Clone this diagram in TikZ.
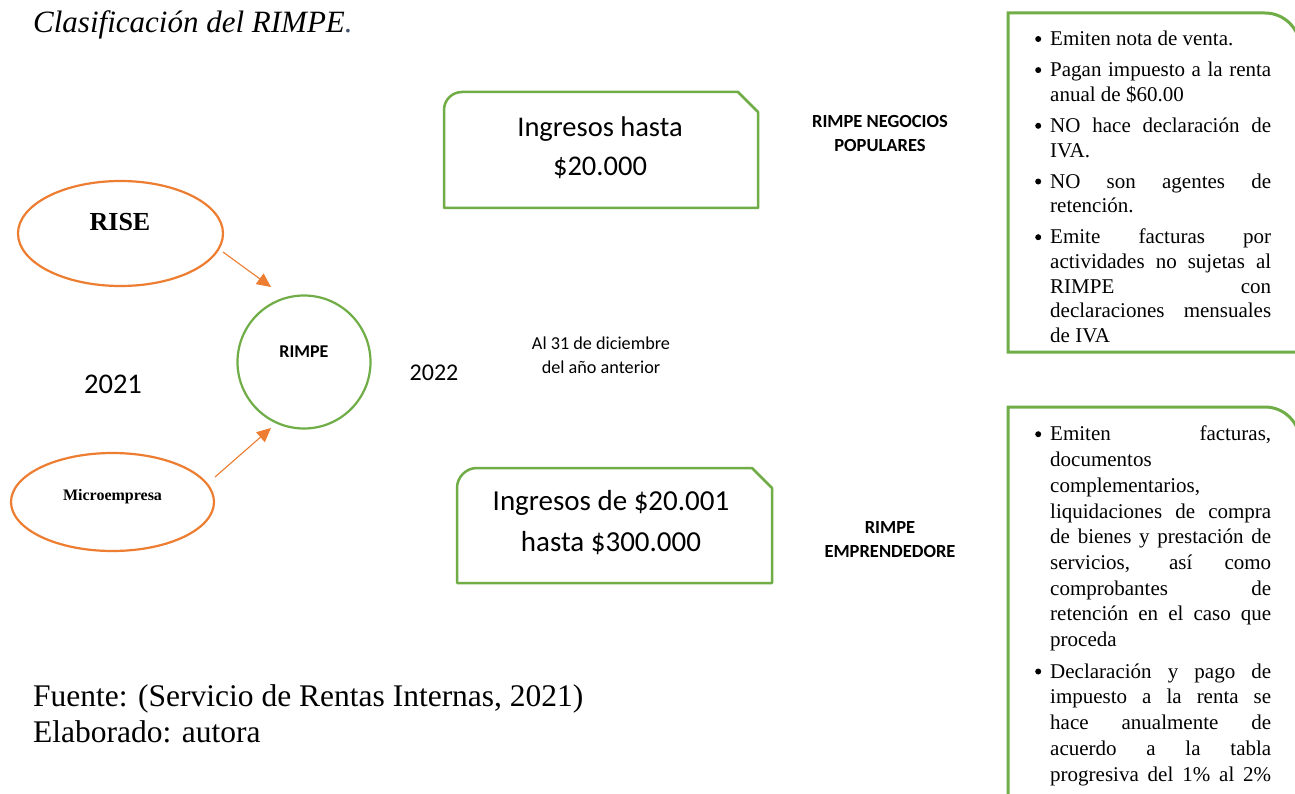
\documentclass[tikz,border=0pt]{standalone}
\usepackage{fontspec}
\setmainfont{Liberation Serif}
\newfontfamily\calibri{Carlito}
\usetikzlibrary{shapes.geometric,arrows.meta}
\definecolor{ogreen}{HTML}{70AD47}
\definecolor{oorange}{HTML}{ED7D31}
\definecolor{odark}{HTML}{44546A}
\newcommand{\jline}[1]{\makebox[221pt][s]{#1}}
\newcommand{\bul}{\llap{\raisebox{3.7pt}{\tikz\fill[black] (0,0) circle (3pt);}\hspace{9pt}}}
\begin{document}
\begin{tikzpicture}[x=1pt,y=-1pt,
  gbox/.style={draw=ogreen, line width=2.5pt, line join=round},
  rbox/.style={draw=ogreen, line width=3pt},
  oell/.style={draw=oorange, line width=2.2pt, ellipse, inner sep=0pt},
  oarrow/.style={draw=oorange, line width=1.1pt, -{Triangle[length=14pt,width=13pt]}},
  lst/.style={anchor=north west, inner sep=0pt, align=left},
  plain/.style={inner sep=0pt}
]
\fill[white] (0,0) rectangle (1295,794);
\useasboundingbox (0,0) rectangle (1295,794);
\clip (0,0) rectangle (1295,794);

% title
\node[plain, anchor=base west, font=\fontsize{31}{36}\selectfont\itshape] (title) at (33,33) {Clasificación del RIMPE\textcolor{odark}{.}};

% box 1
\draw[gbox] (444,208) -- (444,110) .. controls (444,100) and (452,92) .. (462,92) -- (738,92) -- (758,112) -- (758,208) -- cycle;
\node[plain, align=center, font=\calibri\fontsize{28.5}{39}\selectfont] (b1) at (600,148) {Ingresos hasta\\\$20.000};

% box 2
\draw[gbox] (457,583) -- (457,488) .. controls (457,477) and (466,468) .. (477,468) -- (752,468) -- (772,488) -- (772,583) -- cycle;
\node[plain, align=center, font=\calibri\fontsize{29}{41}\selectfont] (b2) at (611,523) {Ingresos de \$20.001\\hasta \$300.000};

% labels
\node[plain, align=center, font=\calibri\bfseries\fontsize{18.5}{24}\selectfont] (np) at (880,134) {RIMPE NEGOCIOS\\POPULARES};
\node[plain, align=center, font=\calibri\bfseries\fontsize{18.5}{24}\selectfont] (em) at (890,540) {RIMPE\\EMPRENDEDORE};
\node[plain, align=center, font=\calibri\fontsize{18.2}{24}\selectfont] (al) at (601,355) {Al 31 de diciembre\\del año anterior};
\node[plain, font=\calibri\fontsize{28.5}{30}\selectfont] (y21) at (113,384) {2021};
\node[plain, font=\calibri\fontsize{24}{28}\selectfont] (y22) at (434,373) {2022};

% RIMPE circle
\node[draw=ogreen, line width=2.2pt, circle, minimum size=133pt, inner sep=0pt] (rimpe) at (304,362) {};
\node[plain, font=\calibri\bfseries\fontsize{18}{20}\selectfont] (rimpetxt) at (304,352) {RIMPE};

% ellipses
\node[oell, minimum width=205pt, minimum height=105pt] (rise) at (120.5,233.5) {};
\node[plain, font=\bfseries\fontsize{26}{30}\selectfont] (risetxt) at (120,222) {RISE};
\node[oell, minimum width=203pt, minimum height=98pt] (micro) at (112.5,502) {};
\node[plain, font=\bfseries\fontsize{16}{18}\selectfont] (microtxt) at (112.5,497) {Microempresa};

% arrows
\coordinate (a1s) at (223,252);
\coordinate (a1e) at (271,287);
\coordinate (a2s) at (215,477);
\coordinate (a2e) at (271,428);
\draw[oarrow] (a1s) -- (a1e);
\draw[oarrow] (a2s) -- (a2e);

% source
\node[plain, anchor=base west, font=\fontsize{31.5}{36}\selectfont] (fuente) at (33,706) {Fuente: (Servicio de Rentas Internas, 2021)};
\node[plain, anchor=base west, font=\fontsize{31.5}{36}\selectfont] (elab) at (33,742) {Elaborado: autora};

% right box 1
\draw[rbox] (1008,352) -- (1008,13) -- (1265,13) .. controls (1284.3,13) and (1300,28.7) .. (1300,48) -- (1300,352) -- cycle;
\node[lst, font=\fontsize{21}{24.6}\selectfont] (list1) at (1050,29.5) {%
\rule{0pt}{16pt}\bul Emiten nota de venta.\\[6.5pt]
\bul\jline{Pagan impuesto a la renta}\\
anual de \$60.00\\[6.5pt]
\bul\jline{NO hace declaración de}\\
IVA.\\[6.5pt]
\bul\jline{NO son agentes de}\\
retención.\\[6.5pt]
\bul\jline{Emite facturas por}\\
\jline{actividades no sujetas al}\\
\jline{RIMPE con}\\
\jline{declaraciones mensuales}\\
de IVA};

% right box 2
\draw[rbox] (1008,800) -- (1008,407) -- (1265,407) .. controls (1284.3,407) and (1300,422.7) .. (1300,442) -- (1300,800) -- cycle;
\node[lst, font=\fontsize{21}{25.7}\selectfont] (list2) at (1050,424.7) {%
\rule{0pt}{16pt}\bul\jline{Emiten facturas,}\\
documentos\\
complementarios,\\
\jline{liquidaciones de compra}\\
\jline{de bienes y prestación de}\\
\jline{servicios, así como}\\
\jline{comprobantes de}\\
\jline{retención en el caso que}\\
proceda\\[6pt]
\bul\jline{Declaración y pago de}\\
\jline{impuesto a la renta se}\\
\jline{hace anualmente de}\\
\jline{acuerdo a la tabla}\\
\jline{progresiva del 1\% al 2\%}};
\end{tikzpicture}
\end{document}
